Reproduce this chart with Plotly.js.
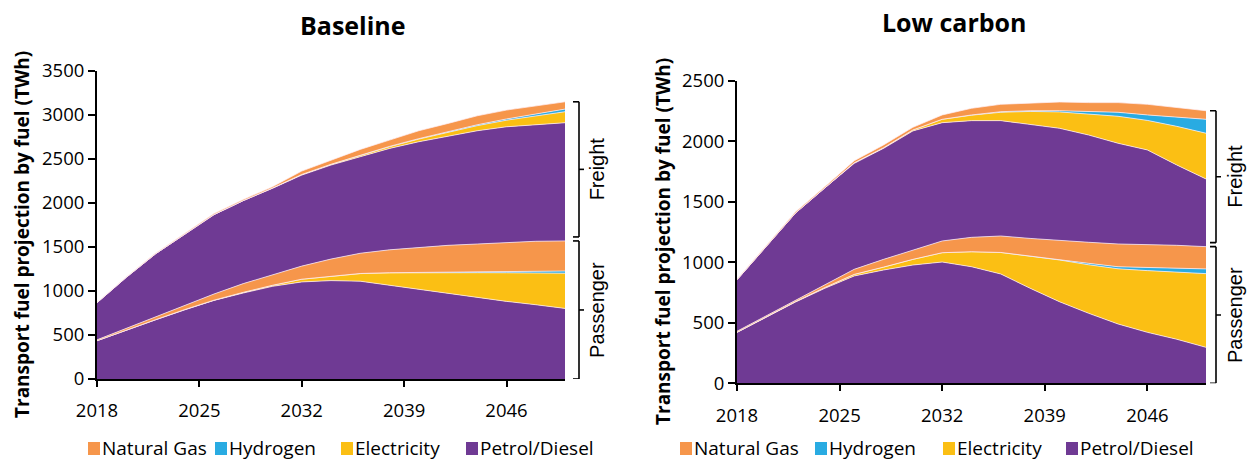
<!DOCTYPE html>
<html><head><meta charset="utf-8">
<script src="https://cdn.plot.ly/plotly-3.0.1.min.js"></script>
<style>html,body{margin:0;padding:0;background:#fff}</style>
</head><body><div id="chart" style="width:1247px;height:462px"></div>
<script>
// ---------- data ----------
const years = [2018,2020,2022,2024,2026,2028,2030,2032,2034,2036,2038,2040,2042,2044,2046,2048,2050];
const xTicks = [2018,2025,2032,2039,2046];
const fuels = ['Natural Gas','Hydrogen','Electricity','Petrol/Diesel'];

// Baseline – passenger
const basePassPetrol = [435,557,672,786,893,977,1053,1103,1118,1111,1065,1019,970,920,882,844,802];
const basePassElec   = [0,0,2,3,3,8,12,31,50,87,141,190,238,288,325,362,400];
const basePassH2     = [0,0,0,0,0,0,0,0,0,1,2,3,5,8,12,16,25];
const basePassGas    = [10,20,35,50,70,99,122,149,195,230,260,284,306,318,331,343,342];
// Baseline – freight
const baseFrPetrol = [422,578,713,801,902,943,980,1034,1068,1097,1152,1200,1241,1287,1316,1328,1343];
const baseFrElec   = [0,0,0,0,0,0,3,6,8,14,20,30,42,58,75,98,125];
const baseFrH2     = [0,0,0,0,0,0,0,1,1,2,3,5,7,10,14,20,30];
const baseFrGas    = [3,5,8,10,12,14,15,39,48,67,72,90,95,102,101,94,83];

// Low carbon – passenger
const lowPassPetrol = [420,545,672,785,887,936,977,1002,963,903,785,674,578,490,421,364,297];
const lowPassElec   = [2,3,4,7,13,24,47,77,124,178,265,345,401,456,510,556,609];
const lowPassH2     = [0,0,0,0,0,0,0,0,0,0,3,5,12,17,25,30,39];
const lowPassGas    = [8,10,12,23,42,64,77,97,119,136,144,160,174,188,192,190,184];
// Low carbon – freight
const lowFrPetrol = [425,575,720,800,875,917,984,977,964,953,943,923,886,832,780,664,559];
const lowFrElec   = [0,0,0,0,5,5,8,28,45,69,106,135,171,223,244,319,378];
const lowFrH2     = [0,0,0,0,0,0,0,0,2,5,6,10,22,33,45,75,115];
const lowFrGas    = [5,7,10,10,17,23,22,36,55,61,62,72,75,80,88,79,71];

// ---------- styles ----------
const colors = {'Natural Gas':'#F6964B','Hydrogen':'#29ABE2','Electricity':'#FBBF14','Petrol/Diesel':'#6F3A94'};
const sepLine = {width:0.8, color:'rgba(255,240,248,0.9)'};

function areaTrace(y, fuel, xa, ya, grp){
  return {x:years, y:y, type:'scatter', mode:'lines', stackgroup:grp,
    line:{width:sepLine.width, color:sepLine.color, shape:'linear'},
    fillcolor:colors[fuel], xaxis:xa, yaxis:ya, showlegend:false, hoverinfo:'skip', name:fuel};
}

const data = [];
function addScenario(pass, fr, xa, ya, grp){
  const order = ['Petrol/Diesel','Electricity','Hydrogen','Natural Gas'];
  order.forEach((f,i)=>data.push(areaTrace(pass[i],f,xa,ya,grp)));
  order.forEach((f,i)=>data.push(areaTrace(fr[i],f,xa,ya,grp)));
}
addScenario([basePassPetrol,basePassElec,basePassH2,basePassGas],[baseFrPetrol,baseFrElec,baseFrH2,baseFrGas],'x','y','base');
addScenario([lowPassPetrol,lowPassElec,lowPassH2,lowPassGas],[lowFrPetrol,lowFrElec,lowFrH2,lowFrGas],'x2','y2','low');

// ---------- layout ----------
const W = 1247, H = 462;
const axFont = {family:'Open Sans, sans-serif', size:18.5, color:'#000'};
function xAxis(dom, anchor){
  return {domain:dom, range:[2018,2050], tickvals:xTicks, showline:true, linewidth:2, linecolor:'#000',
    ticks:'outside', ticklen:6, tickwidth:2, tickcolor:'#000', showgrid:false, zeroline:false,
    tickfont:axFont, ticklabelstandoff:8, anchor:anchor, fixedrange:true};
}
function yAxis(dom, max, anchor){
  return {domain:dom, range:[0,max], dtick:500, showline:true, linewidth:2, linecolor:'#000',
    ticks:'outside', ticklen:7, tickwidth:2, tickcolor:'#000', showgrid:false, zeroline:false,
    tickfont:axFont, anchor:anchor, fixedrange:true};
}
const xDom1 = [97/W, 565/W], xDom2 = [737/W, 1206/W];
const yDom1 = [(H-379)/H, (H-71)/H], yDom2 = [(H-383.3)/H, (H-80.7)/H];

function sum(arrs, i){ return arrs.reduce((s,a)=>s+a[i],0); }
const last = years.length-1;

function brackets(xpx, passArrs, frArrs, yref, max, domPx, labelX){
  const pxU = max/domPx;
  const passTop = sum(passArrs,last);
  const allTop = passTop + sum(frArrs,last);
  const frBot = passTop + 4*pxU;
  const x = xpx/W, xl = (xpx-6)/W, xr = (xpx+5)/W;
  const ln = {color:'#000', width:1.6};
  const segs = [[0, passTop],[frBot, allTop]];
  const shapes = [], anns = [];
  segs.forEach((s,i)=>{
    const mid = (s[0]+s[1])/2;
    shapes.push({type:'line', xref:'paper', yref:yref, x0:x, x1:x, y0:s[0], y1:s[1], line:ln});
    shapes.push({type:'line', xref:'paper', yref:yref, x0:xl, x1:x, y0:s[0], y1:s[0], line:ln});
    shapes.push({type:'line', xref:'paper', yref:yref, x0:xl, x1:x, y0:s[1], y1:s[1], line:ln});
    shapes.push({type:'line', xref:'paper', yref:yref, x0:x, x1:xr, y0:mid, y1:mid, line:ln});
    anns.push({text:i===0?'Passenger':'Freight', xref:'paper', yref:yref, x:labelX/W, y:mid,
      textangle:-90, showarrow:false, xanchor:'center', yanchor:'middle',
      font:{family:'Liberation Sans, Arial, sans-serif', size:20, color:'#000'}});
  });
  return {shapes, anns};
}
const b1 = brackets(579,[basePassPetrol,basePassElec,basePassH2,basePassGas],[baseFrPetrol,baseFrElec,baseFrH2,baseFrGas],'y',3500,308,597);
const b2 = brackets(1216,[lowPassPetrol,lowPassElec,lowPassH2,lowPassGas],[lowFrPetrol,lowFrElec,lowFrH2,lowFrGas],'y2',2500,302.6,1235);

// legend (one per chart): coloured squares + real text
function legendItems(squareXs){
  const shapes = [], anns = [];
  const yc = 448;
  fuels.forEach((f,i)=>{
    const sx = squareXs[i];
    shapes.push({type:'rect', xref:'paper', yref:'paper', x0:sx/W, x1:(sx+12)/W, y0:(H-yc-7)/H, y1:(H-yc+6)/H,
      fillcolor:colors[f], line:{width:0}});
    anns.push({text:f, xref:'paper', yref:'paper', x:(sx+12)/W, y:(H-yc)/H, xanchor:'left', yanchor:'middle',
      showarrow:false, font:{family:'Open Sans, sans-serif', size:19, color:'#000'}});
  });
  return {shapes, anns};
}
const lg1 = legendItems([88,215,341,466]);
const lg2 = legendItems([680,815,943,1066]);

const titleFont = {family:'Open Sans, sans-serif', size:25, color:'#000'};
const yTitleFont = {family:'Open Sans, sans-serif', size:19, color:'#000'};
const annotations = [
  {text:'<b>Baseline</b>', xref:'paper', yref:'paper', x:353/W, y:(H-25)/H, showarrow:false, xanchor:'center', yanchor:'middle', font:titleFont},
  {text:'<b>Low carbon</b>', xref:'paper', yref:'paper', x:955/W, y:(H-22)/H, showarrow:false, xanchor:'center', yanchor:'middle', font:titleFont},
  {text:'<b>Transport fuel projection by fuel (TWh)</b>', xref:'paper', yref:'paper', x:22/W, y:(H-235)/H, textangle:-90, showarrow:false, xanchor:'center', yanchor:'middle', font:yTitleFont},
  {text:'<b>Transport fuel projection by fuel (TWh)</b>', xref:'paper', yref:'paper', x:663/W, y:(H-242)/H, textangle:-90, showarrow:false, xanchor:'center', yanchor:'middle', font:yTitleFont}
].concat(b1.anns, b2.anns, lg1.anns, lg2.anns);

const layout = {
  width:W, height:H, margin:{l:0,r:0,t:0,b:0}, paper_bgcolor:'#fff', plot_bgcolor:'rgba(0,0,0,0)',
  font:{family:'Open Sans, sans-serif', size:18, color:'#000'}, showlegend:false,
  xaxis:xAxis(xDom1,'y'), yaxis:yAxis(yDom1,3500,'x'),
  xaxis2:xAxis(xDom2,'y2'), yaxis2:yAxis(yDom2,2500,'x2'),
  shapes:b1.shapes.concat(b2.shapes, lg1.shapes, lg2.shapes), annotations:annotations, hovermode:false
};

Plotly.newPlot('chart', data, layout, {displayModeBar:false, staticPlot:true});
</script></body></html>
